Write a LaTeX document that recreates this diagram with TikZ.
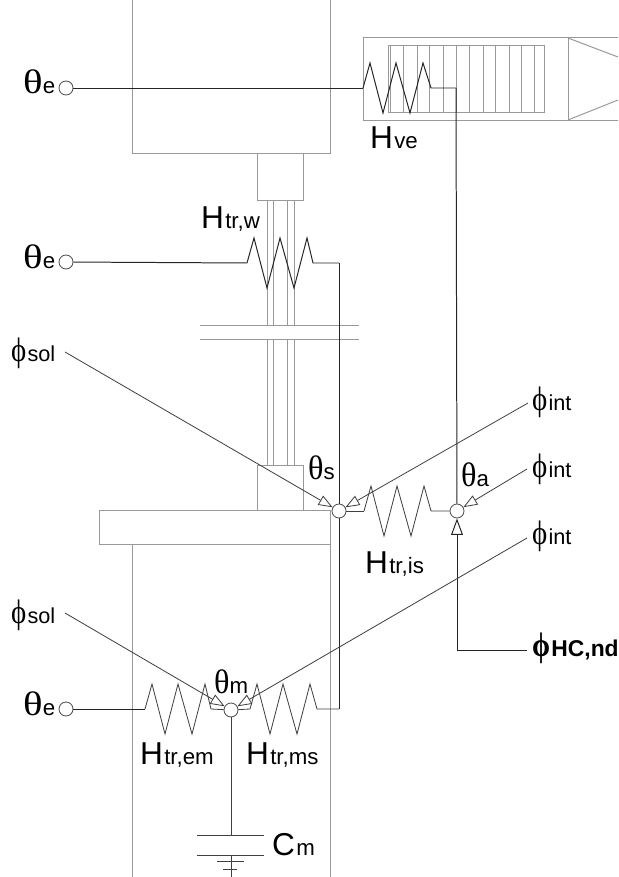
\documentclass[tikz,border=0pt]{standalone}
\usepackage{graphicx}
\usepackage{fontspec}
\setmainfont{Liberation Sans}
\newfontfamily\symfont{Liberation Serif}
\usetikzlibrary{arrows.meta}
\def\resistor[#1](#2)(#3)(#4){\draw[#1] (#2) -- ++(7,-25) -- ++(13,50) -- ++(13,-50) -- ++(14,50) -- ++(13,-50) -- (#3) -- (#4);}
\def\lbl#1#2{{\fontsize{27}{27}\selectfont #1}\hspace{1pt}{\fontsize{19}{19}\selectfont #2}}
\def\tht#1#2{\scalebox{#1}[1]{\fontsize{29}{29}\selectfont\symfont θ}{\fontsize{19}{19}\selectfont #2}}
\def\phig#1{\scalebox{0.85}[1]{\fontsize{29}{29}\selectfont\symfont ϕ}\hspace{1pt}{\fontsize{18.5}{18.5}\selectfont #1}}
\def\phib#1{\scalebox{0.85}[1]{\fontsize{29}{29}\selectfont\symfont\bfseries ϕ}\hspace{1pt}{\fontsize{19.5}{19.5}\selectfont\bfseries #1}}
\tikzset{
	wall/.style={line width=0.85pt, color=black!40},
	wire/.style={line width=0.85pt, color=black!85},
	thin wire/.style={line width=0.7pt, color=black!75},
	junction/.style={circle, draw=black!70, fill=white, line width=0.7pt, inner sep=0pt, minimum size=14*0.8536pt},
	load/.style={thin wire, -{Triangle[open, length=12pt, width=9pt]}},
	tag/.style={inner sep=0pt, anchor=base west}
}

\begin{document}
\begin{tikzpicture}[x=0.03cm, y=-0.03cm]
	\useasboundingbox (0, 0) rectangle (618, 877);

	%%%%% building %%%%%
	\draw[wall] (132, 0) -- (132, 153) -- (330, 153) -- (330, 0);
	\draw[wall] (257, 153) rectangle (303, 200);
	\foreach \xw in {267, 273, 287, 294} {
		\draw[wall] (\xw, 200) -- (\xw, 325);
		\draw[wall] (\xw, 339) -- (\xw, 465);
	}
	\draw[wall] (200, 325) -- (359, 325);
	\draw[wall] (200, 339) -- (359, 339);
	\draw[wall] (257, 510) -- (257, 465) -- (303, 465) -- (303, 510);
	\draw[wall] (99, 510) rectangle (330, 544);
	\draw[wall] (132, 544) -- (132, 877);
	\draw[wall] (330, 544) -- (330, 877);

	%%%%% ventilation unit %%%%%
	\draw[wall] (618, 38) -- (363, 38) -- (363, 120) -- (618, 120);
	\draw[wall] (568, 38) -- (568, 120);
	\draw[wall] (568, 38) -- (618, 57);
	\draw[wall] (568, 120) -- (618, 100);
	\draw[wall] (388, 46) rectangle (544, 112);
	\foreach \xf in {390, 403, 417, 429, 443, 456, 469, 483, 495, 509, 521, 534} {
		\draw[wall] (\xf, 46) -- (\xf, 112);
	}

	%%%%% nodes %%%%%
	\node[junction] (extA) at (66, 88) {};
	\node[junction] (extB) at (66, 262) {};
	\node[junction] (extC) at (66, 709) {};
	\node[junction] (surf) at (339, 511) {};
	\node[junction] (air) at (457, 511) {};
	\node[junction] (mass) at (231, 710) {};

	\coordinate (solA) at (65, 352);
	\coordinate (solB) at (65, 613);
	\coordinate (intA) at (528, 403);
	\coordinate (intB) at (527, 469);
	\coordinate (intC) at (527, 538);
	\coordinate (hcnd) at (527, 650);
	\coordinate (plateA) at (231, 835);
	\coordinate (plateB) at (231, 855);
	\coordinate (earth) at (231, 877);

	%%%%% resistances %%%%%
	\resistor[wire](363, 88)(431, 88)(456, 88)
	\draw[wire] (extA) -- (363, 88);
	\resistor[wire](247, 263)(313, 263)(339, 263)
	\draw[wire] (extB) -- (247, 263);
	\resistor[thin wire](364, 511)(431, 511)(air)
	\draw[thin wire] (surf) -- (364, 511);
	\resistor[thin wire](145, 709)(211, 709)(mass)
	\draw[wire] (extC) -- (145, 709);
	\resistor[thin wire](250, 709)(317, 709)(339, 709)
	\draw[thin wire] (mass) -- (250, 709);

	\draw[wire] (339, 263) -- (surf);
	\draw[wire] (surf) -- (339, 709);
	\draw[wire] (456, 88) -- (air);
	\draw[wire, -{Triangle[open, length=14pt, width=10pt]}] (hcnd) -- (457, 650) -- (air);

	%%%%% loads %%%%%
	\draw[load] (solA) -- (surf);
	\draw[load] (intA) -- (surf);
	\draw[load] (intB) -- (air);
	\draw[load] (solB) -- (mass);
	\draw[load] (intC) -- (mass);

	%%%%% capacity %%%%%
	\draw[thin wire] (mass) -- (plateA);
	\draw[thin wire] (197, 835) -- (264, 835);
	\draw[thin wire] (197, 855) -- (264, 855);
	\draw[thin wire] (plateB) -- (earth);
	\draw[thin wire] (217, 861) -- (244, 861);
	\draw[thin wire] (223, 869) -- (237, 869);

	%%%%% labels %%%%%
	\node[tag] (teA) at (23, 94) {\tht{1.2}{e}};
	\node[tag] (teB) at (23, 268) {\tht{1.2}{e}};
	\node[tag] (teC) at (23, 715) {\tht{1.2}{e}};
	\node[tag] (ts) at (308, 479) {\tht{0.95}{s}};
	\node[tag] (ta) at (461, 486) {\tht{0.95}{a}};
	\node[tag] (tm) at (214, 693) {\tht{0.95}{m}};
	\node[tag] (psA) at (11, 361) {\phig{sol}};
	\node[tag] (psB) at (11, 623) {\phig{sol}};
	\node[tag] (piA) at (532, 410) {\phig{int}};
	\node[tag] (piB) at (532, 477) {\phig{int}};
	\node[tag] (piC) at (532, 544) {\phig{int}};
	\node[tag] (phc) at (532, 656) {\phib{HC,nd}};
	\node[tag] (hve) at (370, 149) {\lbl{H}{ve}};
	\node[tag] (htw) at (201, 228) {\lbl{H}{tr,w}};
	\node[tag] (his) at (365, 573) {\lbl{H}{tr,is}};
	\node[tag] (hem) at (140, 764) {\lbl{H}{tr,em}};
	\node[tag] (hms) at (246, 764) {\lbl{H}{tr,ms}};
	\node[tag] (cap) at (272, 855) {\lbl{C}{m}};
\end{tikzpicture}
\end{document}
